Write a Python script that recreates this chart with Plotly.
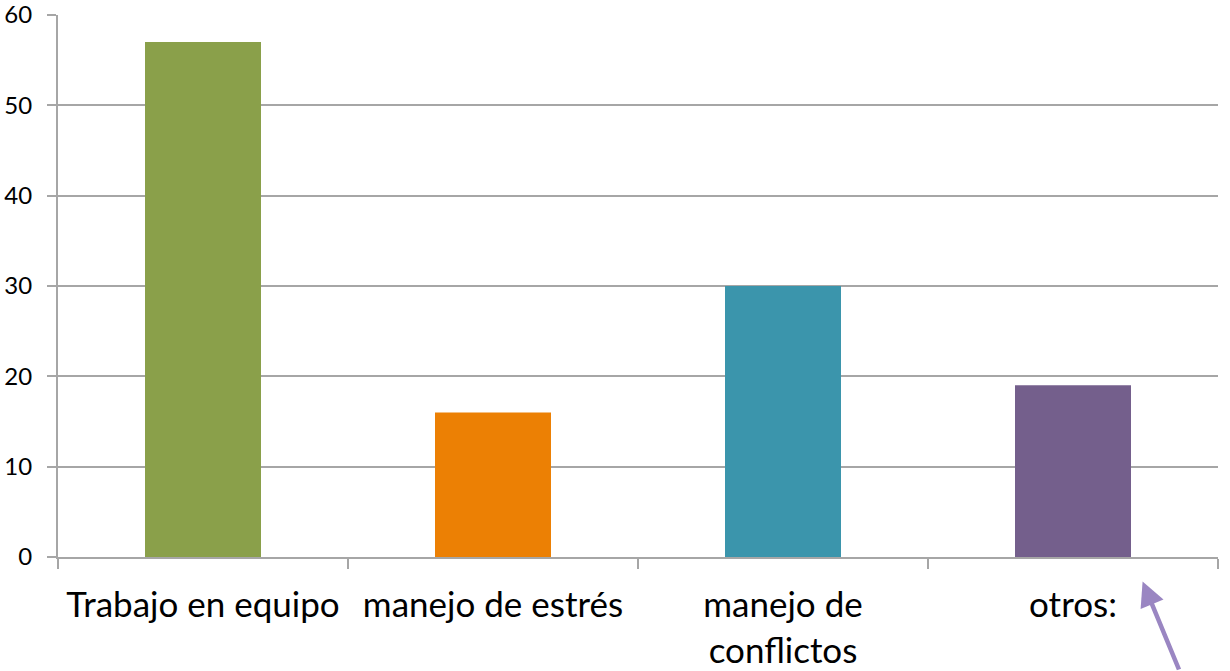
import plotly.graph_objects as go

categories = ["Trabajo en equipo", "manejo de estrés", "manejo de<br>conflictos", "otros:"]
values = [57, 16, 30, 19]
colors = ["#8aa04a", "#ec8004", "#3b95ac", "#745f8c"]
y_ticks = [0, 10, 20, 30, 40, 50, 60]

grid = "#a6a6a6"
fig = go.Figure(go.Bar(x=categories, y=values, marker=dict(color=colors, line=dict(width=0)), width=0.4,
                       hoverinfo="skip"))

fig.update_layout(
    width=1230, height=671,
    margin=dict(l=58, r=12, t=15, b=114, autoexpand=False),
    paper_bgcolor="white", plot_bgcolor="white",
    font=dict(family="Lato, Open Sans, sans-serif", color="black"),
    showlegend=False,
)
fig.update_xaxes(
    showgrid=False, showline=True, linecolor=grid, linewidth=2,
    ticks="outside", tickson="boundaries", ticklen=10, tickcolor=grid, tickwidth=2,
    tickfont=dict(size=35), range=[-0.5, 3.5], automargin=False, ticklabelstandoff=16,
    ticklabeloverflow="allow",
)
fig.update_yaxes(
    range=[0, 60], tickvals=y_ticks, showgrid=True, gridcolor=grid, gridwidth=1.5,
    showline=True, linecolor=grid, linewidth=2, ticks="outside", ticklen=9,
    tickcolor=grid, tickwidth=2, tickfont=dict(size=24), zeroline=False,
    automargin=False, ticklabelstandoff=10, ticklabeloverflow="allow",
)
fig.add_annotation(
    x=0.935, y=-0.045, xref="paper", yref="paper", ax=37, ay=92, axref="pixel", ayref="pixel",
    text="", showarrow=True, arrowhead=2, arrowsize=1.1, arrowwidth=4.5, arrowcolor="#9a86c2",
)
fig.write_html("out.html", config={"displayModeBar": False},
               post_script="document.body.style.margin='0';document.body.style.overflow='hidden';")
